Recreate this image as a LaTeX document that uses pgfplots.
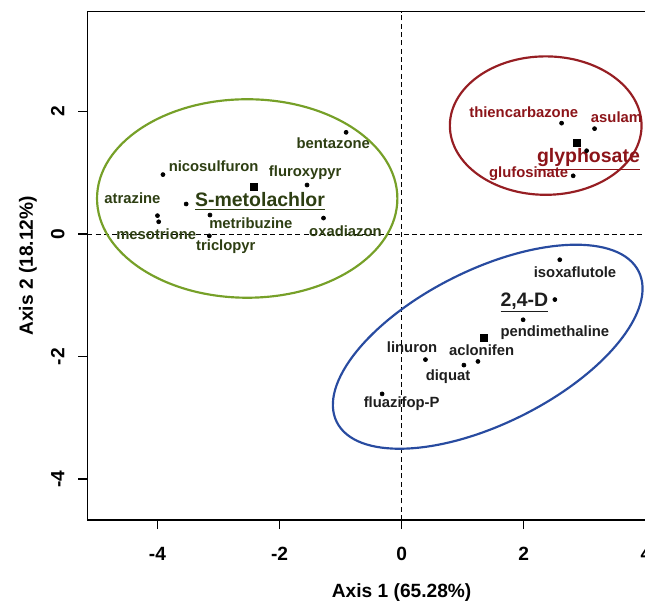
\documentclass[border=0pt]{standalone}
\usepackage{fontspec}
\setmainfont{Liberation Sans}
\usepackage{pgfplots}
\pgfplotsset{compat=1.18}
\definecolor{grn}{RGB}{118,160,40}
\definecolor{grntxt}{RGB}{45,62,18}
\definecolor{redl}{RGB}{150,30,35}
\definecolor{redtxt}{RGB}{140,20,25}
\definecolor{blu}{RGB}{40,75,160}
\definecolor{blutxt}{RGB}{30,30,30}
\newcommand{\lab}{\bfseries\fontsize{8.9}{10}\selectfont}
\newcommand{\grp}{\bfseries\fontsize{11.7}{13}\selectfont}
\begin{document}
\begin{tikzpicture}
\begin{axis}[
  scale only axis, width=335.4pt, height=305.3pt,
  xmin=-5.15, xmax=4.0, ymin=-4.67, ymax=3.63,
  axis line style={line width=0.8pt},
  xtick={-4,-2,0,2,4}, xticklabels={-4,-2,0,2,4},
  ytick={-4,-2,0,2}, yticklabels={-4,-2,0,2},
  xtick pos=lower, ytick pos=left,
  tick align=outside, major tick length=5.5pt,
  tick style={line width=0.8pt, black},
  ticklabel style={font=\bfseries\fontsize{11.5}{13}\selectfont},
  xticklabel style={anchor=north, inner sep=0pt, yshift=-10.8pt},
  yticklabel style={rotate=90, anchor=south, inner sep=0pt, yshift=8pt},
  clip=false,
]
\coordinate (SW) at (rel axis cs:0,0);
\coordinate (NE) at (rel axis cs:1,1);
\draw[black, line width=0.6pt, dash pattern=on 3pt off 2pt] (axis cs:-5.15,0) -- (axis cs:4.0,0);
\draw[black, line width=0.6pt, dash pattern=on 3pt off 2pt] (axis cs:0,-4.67) -- (axis cs:0,3.63);

\draw[grn, line width=1.3pt] (axis cs:-2.53,0.58) ellipse [x radius=2.46, y radius=1.62];
\draw[redl, line width=1.3pt] (axis cs:2.36,1.77) ellipse [x radius=1.57, y radius=1.13];
\draw[blu, line width=1.3pt, rotate around={26.5:(axis cs:1.41,-1.84)}] (axis cs:1.41,-1.84) ellipse [x radius=101.3pt, y radius=46.2pt];

\addplot[only marks, mark=*, mark size=1.2pt, black] coordinates {
(-0.91,1.66) (-3.91,0.97) (-1.55,0.80) (-3.53,0.49) (-4.00,0.30) (-3.98,0.20) (-3.14,0.31) (-3.15,-0.03) (-1.28,0.26)
(2.62,1.81) (3.16,1.72) (3.03,1.36) (2.81,0.95)
(2.59,-0.42) (2.51,-1.07) (1.99,-1.40) (1.25,-2.08) (1.02,-2.14) (0.39,-2.05) (-0.32,-2.61)
};
\addplot[only marks, mark=square*, mark size=2.1pt, black] coordinates {
(-2.42,0.77) (2.87,1.49) (1.35,-1.69)
};

\begin{scope}[every node/.style={inner sep=0pt, text=grntxt, font=\lab}]
\node at (axis cs:-1.12,1.48) {bentazone};
\node at (axis cs:-3.08,1.10) {nicosulfuron};
\node at (axis cs:-1.58,1.00) {fluroxypyr};
\node at (axis cs:-4.41,0.59) {atrazine};
\node at (axis cs:-4.02,0.00) {mesotrione};
\node at (axis cs:-2.47,0.18) {metribuzine};
\node at (axis cs:-2.88,-0.20) {triclopyr};
\node at (axis cs:-0.92,0.04) {oxadiazon};
\node[font=\grp] at (axis cs:-2.32,0.53) {\underline{S-metolachlor}};
\end{scope}
\begin{scope}[every node/.style={inner sep=0pt, text=redtxt, font=\lab}]
\node at (axis cs:2.00,1.99) {thiencarbazone};
\node at (axis cs:3.52,1.90) {asulam};
\node at (axis cs:2.08,0.98) {glufosinate};
\node[font=\grp] at (axis cs:3.06,1.22) {\underline{glyphosate}};
\end{scope}
\begin{scope}[every node/.style={inner sep=0pt, text=blutxt, font=\lab}]
\node at (axis cs:2.84,-0.62) {isoxaflutole};
\node at (axis cs:2.51,-1.61) {pendimethaline};
\node at (axis cs:1.31,-1.90) {aclonifen};
\node at (axis cs:0.17,-1.84) {linuron};
\node at (axis cs:0.76,-2.33) {diquat};
\node at (axis cs:0.00,-2.77) {fluazifop-P};
\node[font=\grp] at (axis cs:2.01,-1.12) {\underline{2,4-D}};
\end{scope}

\node[font=\bfseries\fontsize{11.5}{13}\selectfont, anchor=center] at ([yshift=-43.8pt]axis cs:0,-4.67) {Axis 1 (65.28\%)};
\node[font=\bfseries\fontsize{11.5}{13}\selectfont, anchor=center, rotate=90] at ([xshift=-35.6pt]rel axis cs:0,0.5) {Axis 2 (18.12\%)};
\end{axis}
\pgfresetboundingbox
\path ([shift={(-52.4pt,-49pt)}]SW) rectangle ([shift={(-0.5pt,7pt)}]NE);
\end{tikzpicture}
\end{document}
